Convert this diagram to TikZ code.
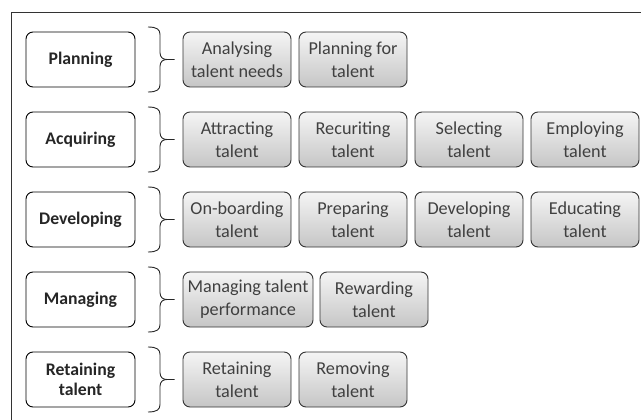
\documentclass[tikz,border=0pt]{standalone}
\usepackage{fontspec}
\setmainfont{Carlito}
\begin{document}
\begin{tikzpicture}[x=1pt,y=-1pt,
  catbox/.style={draw=black,line width=0.9pt,fill=white,rounded corners=7pt,minimum width=109pt,minimum height=55pt,align=center,font=\fontsize{17.7}{20}\selectfont\bfseries,text=black!85,inner sep=0pt},
  subbox/.style={draw=black!80,line width=0.9pt,rounded corners=7pt,top color=gray!8,bottom color=gray!45,minimum width=108pt,minimum height=55pt,align=center,font=\fontsize{18.2}{23}\selectfont,text=black!75,inner sep=0pt},
  brace/.style={draw=black!85,line width=0.9pt}]
\useasboundingbox (0,0) rectangle (641,420);
\draw[black!80,line width=0.9pt] (11,430) -- (11,12) -- (650,12);
\node[catbox] (cp) at (80.5,59.5) {Planning};
\node[catbox] (ca) at (80.5,139.5) {Acquiring};
\node[catbox] (cd) at (80.5,219.5) {Developing};
\node[catbox] (cm) at (80.5,299.5) {Managing};
\node[catbox] (cr) at (80.5,379.5) {Retaining\\talent};
% sub boxes
\node[subbox] (p1) at (237,59.5) {Analysing\\talent needs};
\node[subbox] (p2) at (353,59.5) {Planning for\\talent};
\node[subbox] (a1) at (237,139.5) {Attracting\\talent};
\node[subbox] (a2) at (353,139.5) {Recuriting\\talent};
\node[subbox] (a3) at (469,139.5) {Selecting\\talent};
\node[subbox] (a4) at (585,139.5) {Employing\\talent};
\node[subbox] (d1) at (237,219.5) {On-boarding\\talent};
\node[subbox] (d2) at (353,219.5) {Preparing\\talent};
\node[subbox] (d3) at (469,219.5) {Developing\\talent};
\node[subbox] (d4) at (585,219.5) {Educating\\talent};
\node[subbox,minimum width=130pt] (m1) at (248,299.5) {Managing talent\\performance};
\node[subbox] (m2) at (374,299.5) {Rewarding\\talent};
\node[subbox] (r1) at (237,379.5) {Retaining\\talent};
\node[subbox] (r2) at (353,379.5) {Removing\\talent};
% braces
\foreach \y/\t in {59.5/p1,139.5/a1,219.5/d1,299.5/m1,379.5/r1}{
  \draw[brace] (148,\y-32.5) .. controls (157,\y-32.5) and (160,\y-30) .. (160,\y-25)
     -- (160,\y-7) .. controls (160,\y-2) and (163,\y) .. (167,\y) -- ([xshift=-8pt]\t.west);
  \draw[brace] (148,\y+32.5) .. controls (157,\y+32.5) and (160,\y+30) .. (160,\y+25)
     -- (160,\y+7) .. controls (160,\y+2) and (163,\y) .. (167,\y);
}
\end{tikzpicture}
\end{document}
